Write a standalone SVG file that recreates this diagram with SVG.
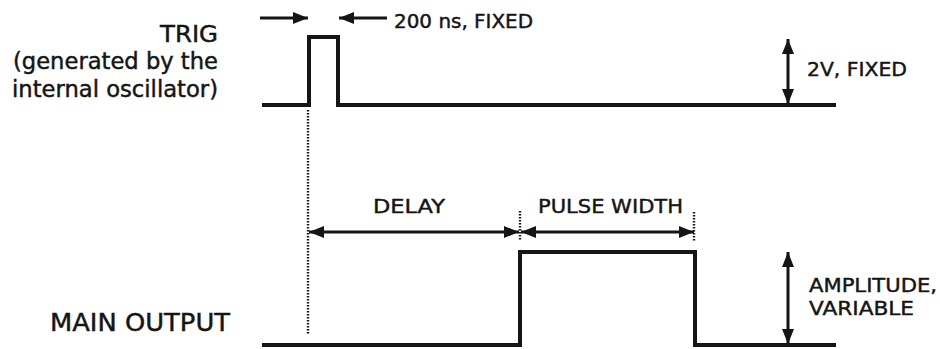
<svg xmlns="http://www.w3.org/2000/svg" width="940" height="349" viewBox="0 0 940 349">
<style>
text{font-family:"DejaVu Sans","Liberation Sans",sans-serif;fill:#151515;stroke:#151515;stroke-width:0.45}
.lbl{font-size:22.5px}
.ann{font-size:20px}
.wave{fill:none;stroke:#151515;stroke-width:4;stroke-linejoin:miter}
.arr{fill:none;stroke:#151515;stroke-width:3}
.dot{fill:none;stroke:#151515;stroke-width:2.4;stroke-dasharray:1.6 1.4}
</style>
<defs>
<marker id="ah" markerUnits="userSpaceOnUse" markerWidth="15" markerHeight="12" viewBox="0 0 15 12" refX="15" refY="6" orient="auto-start-reverse">
<path d="M0,0 L15,6 L0,12 z" fill="#151515"/>
</marker>
</defs>
<rect width="940" height="349" fill="#fff"/>
<g id="trig-label">
<text class="lbl" x="218" y="42" text-anchor="end" textLength="58" lengthAdjust="spacingAndGlyphs">TRIG</text>
<text class="lbl" x="218" y="69" text-anchor="end" textLength="205" lengthAdjust="spacingAndGlyphs">(generated by the</text>
<text class="lbl" x="218" y="97" text-anchor="end" textLength="206" lengthAdjust="spacingAndGlyphs">internal oscillator)</text>
</g>
<g id="trig-wave">
<path class="wave" d="M262,105 H309 V37 H338 V105 H836"/>
</g>
<g id="main-label">
<text x="50" y="331" font-size="24.5" textLength="180" lengthAdjust="spacingAndGlyphs">MAIN OUTPUT</text>
</g>
<g id="main-wave">
<path class="wave" d="M262,345 H520 V252 H695 V345 H836"/>
</g>
<g id="labels">
<text class="ann" x="394" y="28" textLength="139" lengthAdjust="spacingAndGlyphs">200 ns, FIXED</text>
<text class="ann" x="807" y="76" textLength="100" lengthAdjust="spacingAndGlyphs">2V, FIXED</text>
<text class="ann" x="373" y="213" textLength="72" lengthAdjust="spacingAndGlyphs">DELAY</text>
<text class="ann" x="538" y="213" textLength="145" lengthAdjust="spacingAndGlyphs">PULSE WIDTH</text>
<text class="ann" x="809" y="292" textLength="128" lengthAdjust="spacingAndGlyphs">AMPLITUDE,</text>
<text class="ann" x="809" y="315" textLength="105" lengthAdjust="spacingAndGlyphs">VARIABLE</text>
</g>
<g id="connectors">
<line class="arr" x1="260" y1="18" x2="308" y2="18" marker-end="url(#ah)"/>
<line class="arr" x1="387" y1="18" x2="339" y2="18" marker-end="url(#ah)"/>
<line class="arr" x1="788" y1="39" x2="788" y2="104" marker-start="url(#ah)" marker-end="url(#ah)"/>
<line class="arr" x1="788" y1="252" x2="788" y2="344" marker-start="url(#ah)" marker-end="url(#ah)"/>
<line class="arr" x1="309" y1="232" x2="519" y2="232" marker-start="url(#ah)" marker-end="url(#ah)"/>
<line class="arr" x1="521" y1="232" x2="694" y2="232" marker-start="url(#ah)" marker-end="url(#ah)"/>
<line class="dot" x1="308" y1="110" x2="308" y2="334"/>
<line class="dot" x1="520" y1="211" x2="520" y2="241"/>
<line class="dot" x1="694" y1="212" x2="694" y2="241"/>
</g>
</svg>
